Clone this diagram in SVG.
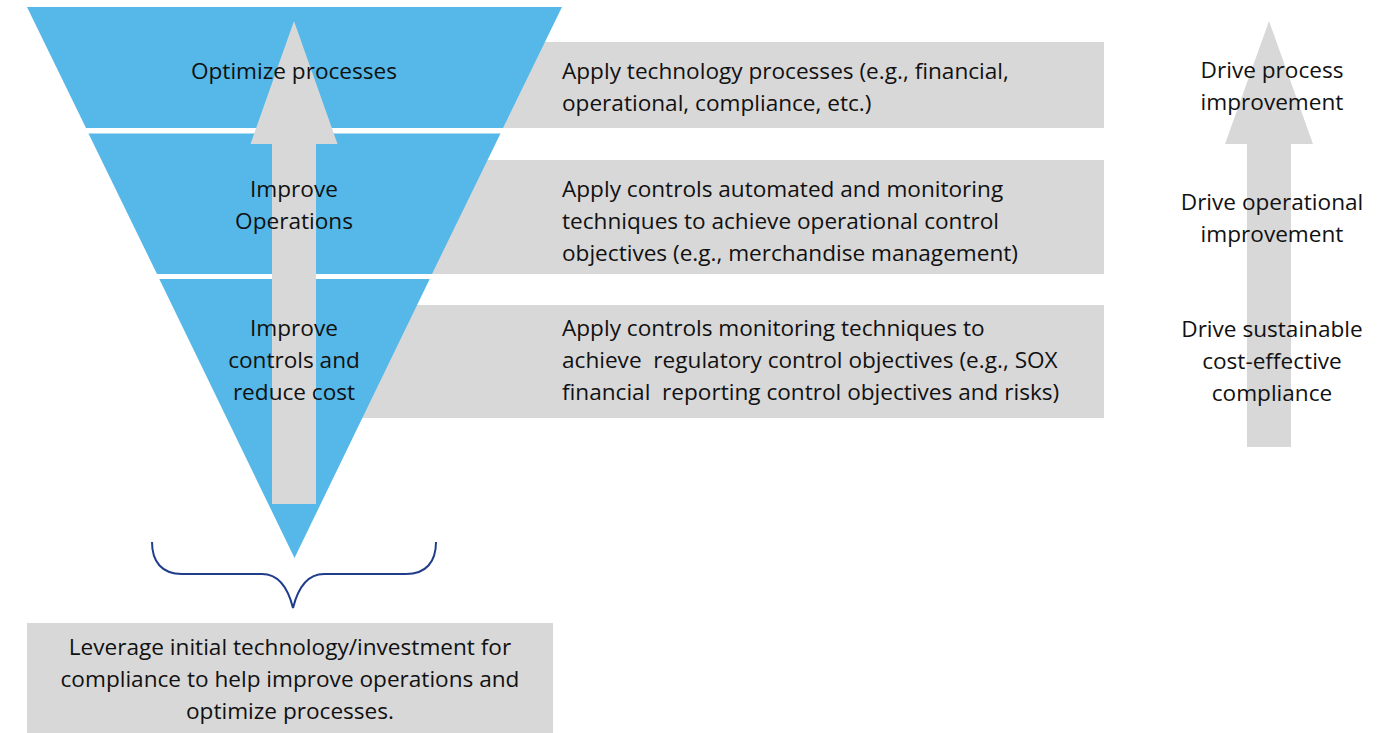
<svg xmlns="http://www.w3.org/2000/svg" width="1400" height="733" viewBox="0 0 1400 733">
<style>
.t{font-family:"Open Sans","Noto Sans","Liberation Sans",sans-serif;font-size:22.6px;fill:#111;}
.c{text-anchor:middle;}
.box{fill:#d8d8d8;}
.band{fill:#55b8e8;}
.arr{fill:#d8d8d8;}
</style>
<rect width="1400" height="733" fill="#fff"/>
<g id="box-process">
<rect class="box" x="450" y="42" width="654" height="86"/>
<text class="t" x="562" y="79">Apply technology processes (e.g., financial,</text>
<text class="t" x="562" y="111">operational, compliance, etc.)</text>
</g>
<g id="box-operations">
<rect class="box" x="400" y="160" width="704" height="114"/>
<text class="t" x="562" y="197">Apply controls automated and monitoring</text>
<text class="t" x="562" y="229">techniques to achieve operational control</text>
<text class="t" x="562" y="261">objectives (e.g., merchandise management)</text>
</g>
<g id="box-controls">
<rect class="box" x="330" y="305" width="774" height="113"/>
<text class="t" x="562" y="336">Apply controls monitoring techniques to</text>
<text class="t" x="562" y="368" style="white-space:pre">achieve  regulatory control objectives (e.g., SOX</text>
<text class="t" x="562" y="400" style="white-space:pre">financial  reporting control objectives and risks)</text>
</g>
<g id="band-optimize">
<polygon class="band" points="27,7 562,7 503,128 86,128"/>
</g>
<g id="band-operations">
<polygon class="band" points="88.5,133.5 500.5,133.5 432,274 157,274"/>
</g>
<g id="band-controls">
<polygon class="band" points="159.3,279 429.7,279 294.5,558"/>
</g>
<g id="connectors">
<polygon id="center-arrow" class="arr" points="294,21 337.5,144 316,144 316,504 272,504 272,144 250.5,144"/>
<polygon id="right-arrow" class="arr" points="1269,21 1313,144 1291,144 1291,447 1247,447 1247,144 1225,144"/>
<path id="brace" d="M152,542 C152,562 162,574 182,574 L262,574 C278,574 288,588 293,608 C298,588 308,574 324,574 L406,574 C426,574 436,562 436,542" fill="none" stroke="#1f3d8a" stroke-width="2"/>
</g>
<g id="label-optimize">
<text class="t c" x="294" y="79">Optimize processes</text>
</g>
<g id="label-operations">
<text class="t c" x="294" y="197">Improve</text>
<text class="t c" x="294" y="229">Operations</text>
</g>
<g id="label-controls">
<text class="t c" x="294" y="336">Improve</text>
<text class="t c" x="294" y="368">controls and</text>
<text class="t c" x="294" y="400">reduce cost</text>
</g>
<g id="drive-process">
<text class="t c" x="1272" y="78">Drive process</text>
<text class="t c" x="1272" y="110">improvement</text>
</g>
<g id="drive-operational">
<text class="t c" x="1272" y="210">Drive operational</text>
<text class="t c" x="1272" y="242">improvement</text>
</g>
<g id="drive-compliance">
<text class="t c" x="1272" y="337">Drive sustainable</text>
<text class="t c" x="1272" y="369">cost-effective</text>
<text class="t c" x="1272" y="401">compliance</text>
</g>
<g id="leverage-box">
<rect class="box" x="27" y="623" width="526" height="110"/>
<text class="t c" x="290" y="655">Leverage initial technology/investment for</text>
<text class="t c" x="290" y="687">compliance to help improve operations and</text>
<text class="t c" x="290" y="719">optimize processes.</text>
</g>
</svg>
